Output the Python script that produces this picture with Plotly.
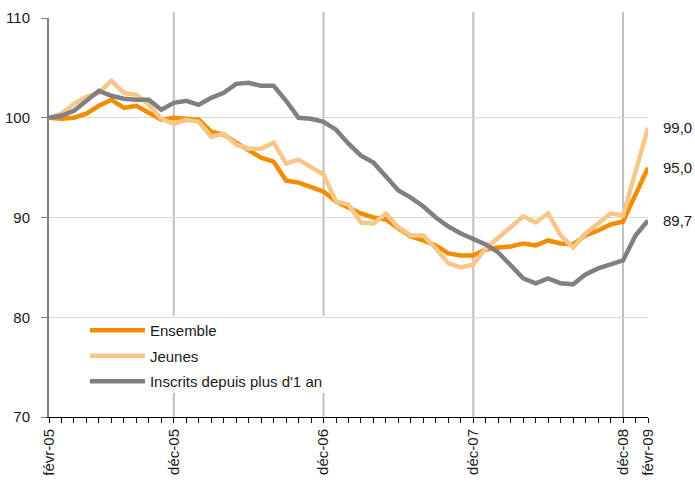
import plotly.graph_objects as go

months = ["févr-05","mars-05","avr-05","mai-05","juin-05","juil-05","août-05","sept-05","oct-05","nov-05","déc-05",
          "janv-06","févr-06","mars-06","avr-06","mai-06","juin-06","juil-06","août-06","sept-06","oct-06","nov-06","déc-06",
          "janv-07","févr-07","mars-07","avr-07","mai-07","juin-07","juil-07","août-07","sept-07","oct-07","nov-07","déc-07",
          "janv-08","févr-08","mars-08","avr-08","mai-08","juin-08","juil-08","août-08","sept-08","oct-08","nov-08","déc-08",
          "janv-09","févr-09"]

ensemble = [100.0, 99.9, 100.0, 100.4, 101.2, 101.8, 101.0, 101.2, 100.5, 99.8, 100.0,
            99.9, 99.8, 98.6, 98.3, 97.5, 96.7, 96.0, 95.6, 93.7, 93.5, 93.1, 92.6,
            91.6, 91.0, 90.4, 90.0, 89.8, 88.9, 88.1, 87.7, 87.2, 86.4, 86.2, 86.2,
            86.8, 87.0, 87.1, 87.4, 87.2, 87.7, 87.4, 87.3, 88.2, 88.7, 89.3, 89.6,
            92.4, 95.0]

jeunes = [100.0, 100.4, 101.4, 102.1, 102.5, 103.7, 102.5, 102.3, 101.3, 99.9, 99.4,
          99.8, 99.6, 98.1, 98.4, 97.3, 96.9, 96.9, 97.5, 95.4, 95.8, 95.0, 94.3,
          91.6, 91.3, 89.5, 89.4, 90.4, 89.0, 88.2, 88.2, 86.9, 85.4, 85.0, 85.3,
          86.9, 88.0, 89.1, 90.1, 89.5, 90.4, 88.2, 87.0, 88.4, 89.4, 90.4, 90.2,
          94.7, 99.0]

inscrits = [100.0, 100.2, 100.7, 101.7, 102.7, 102.2, 101.9, 101.8, 101.8, 100.8, 101.5,
            101.7, 101.3, 102.0, 102.5, 103.4, 103.5, 103.2, 103.2, 101.7, 100.0, 99.9, 99.6,
            98.8, 97.4, 96.2, 95.5, 94.1, 92.7, 92.0, 91.1, 90.0, 89.1, 88.4, 87.8,
            87.3, 86.5, 85.2, 83.9, 83.4, 83.9, 83.4, 83.3, 84.3, 84.9, 85.3, 85.7,
            88.2, 89.7]

tick_labels = ["févr-05", "déc-05", "déc-06", "déc-07", "déc-08", "févr-09"]
grid_labels = ["déc-05", "déc-06", "déc-07", "déc-08"]

series = [("Ensemble", ensemble, "#F28C00"),
          ("Jeunes", jeunes, "#F8C688"),
          ("Inscrits depuis plus d'1 an", inscrits, "#808080")]

FONT = "Liberation Sans, Arial, sans-serif"
x = list(range(len(months)))

fig = go.Figure()
for name, vals, col in series:
    fig.add_trace(go.Scatter(x=x, y=vals, mode="lines", name=name, legendgroup=name,
                             line=dict(color=col, width=4.5)))

# right-side end labels
for name, vals, col in series:
    fig.add_annotation(x=x[-1], y=vals[-1], xref="x", yref="y",
                       text=f"{vals[-1]:.1f}".replace(".", ","),
                       showarrow=False, xanchor="left", xshift=13,
                       font=dict(family=FONT, size=15, color="#1a1a1a"))

shapes = []
for lab in grid_labels:
    xi = months.index(lab)
    shapes.append(dict(type="line", xref="x", yref="paper", x0=xi, x1=xi, y0=0, y1=1.015,
                       line=dict(color="#BFBFBF", width=2), layer="below"))
# white legend background box
shapes.append(dict(type="rect", xref="paper", yref="paper", x0=0.0317, x1=0.4958,
                   y0=0.060, y1=0.254, fillcolor="white", line=dict(width=0), layer="between"))

fig.update_layout(
    width=695, height=484,
    margin=dict(l=49, r=47, t=18, b=67),
    paper_bgcolor="white", plot_bgcolor="white",
    font=dict(family=FONT, size=15, color="#1a1a1a"),
    shapes=shapes,
    showlegend=True,
    legend=dict(x=0.06, y=0.258, xanchor="left", yanchor="top",
                bgcolor="rgba(0,0,0,0)", font=dict(family=FONT, size=15, color="#1a1a1a"),
                tracegroupgap=3, itemwidth=55),
    xaxis=dict(range=[0, len(months) - 1], tickmode="array", automargin=False,
               tickvals=[months.index(t) for t in tick_labels], ticktext=tick_labels,
               tickangle=-90, showgrid=False, zeroline=False,
               showline=True, linecolor="black", linewidth=1,
               ticks="outside", ticklen=5, tickcolor="black", tickwidth=1,
               tickfont=dict(family=FONT, size=15, color="#1a1a1a"),
               minor=dict(tickmode="linear", tick0=0, dtick=1, ticks="outside",
                          ticklen=5, tickcolor="black", tickwidth=1, showgrid=False)),
    yaxis=dict(range=[70, 110], tickmode="linear", tick0=70, dtick=10, automargin=False,
               showgrid=True, gridcolor="#D9D9D9", gridwidth=1, zeroline=False,
               showline=True, linecolor="#808080", linewidth=2,
               ticks="outside", ticklen=6, tickcolor="#808080", ticklabelstandoff=8,
               tickfont=dict(family=FONT, size=15, color="#1a1a1a")),
)

# remove the default page margin so the 695x484 figure fills the window exactly
fig.write_html("out.html", config={"displayModeBar": False},
               post_script="document.body.style.margin='0';document.body.style.overflow='hidden';")
